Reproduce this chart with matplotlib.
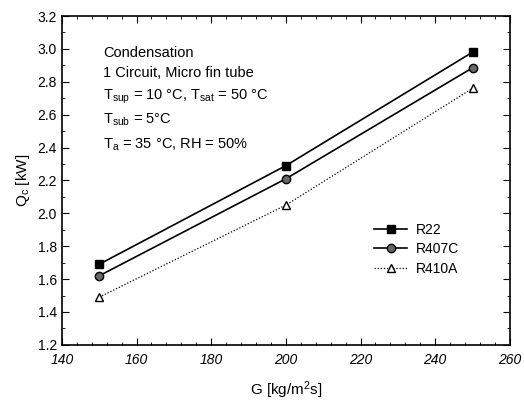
import matplotlib

matplotlib.use("Agg")

import matplotlib.pyplot as plt
from matplotlib.ticker import MultipleLocator

plt.rcParams["font.family"] = ["Liberation Sans", "DejaVu Sans"]
plt.rcParams["mathtext.default"] = "regular"

mass_flux = [150, 200, 250]
q_r22 = [1.69, 2.29, 2.98]
q_r407c = [1.62, 2.21, 2.885]
q_r410a = [1.49, 2.05, 2.76]

info_lines = [
    "Condensation",
    "1 Circuit, Micro fin tube",
    "T$_{sup}$ = 10 °C, T$_{sat}$ = 50 °C",
    "T$_{sub}$ = 5°C",
    "T$_{a}$ = 35 °C, RH = 50%",
]

fig = plt.figure(figsize=(5.24, 4.01), dpi=100)
ax = fig.add_axes([0.118, 0.140, 0.855, 0.820])

ax.plot(mass_flux, q_r22, color="black", linewidth=1.2, marker="s",
        markersize=6, markerfacecolor="black", label="R22")
ax.plot(mass_flux, q_r407c, color="black", linewidth=1.2, marker="o",
        markersize=6, markerfacecolor="0.4", label="R407C")
ax.plot(mass_flux, q_r410a, color="black", linewidth=0.9, linestyle=(0, (1, 1.5)),
        marker="^", markersize=6, markerfacecolor="white", label="R410A")

ax.set_xlim(140, 260)
ax.set_ylim(1.2, 3.2)
ax.xaxis.set_major_locator(MultipleLocator(20))
ax.xaxis.set_minor_locator(MultipleLocator(4))
ax.yaxis.set_major_locator(MultipleLocator(0.2))
ax.yaxis.set_minor_locator(MultipleLocator(0.1))
ax.yaxis.set_major_formatter(plt.FormatStrFormatter("%.1f"))
ax.tick_params(which="both", direction="in", top=True, right=True, labelsize=10)
ax.tick_params(which="major", length=5)
ax.tick_params(which="minor", length=2.5)
ax.tick_params(axis="x", pad=6)
for label in ax.get_xticklabels():
    label.set_fontstyle("italic")
for spine in ax.spines.values():
    spine.set_linewidth(1.2)

ax.set_xlabel("G [kg/m$^2$s]", fontsize=11, labelpad=9)
ax.set_ylabel("Q$_c$ [kW]", fontsize=11, labelpad=4)

y_positions = [0.888, 0.827, 0.754, 0.684, 0.608]
for text, y in zip(info_lines, y_positions):
    ax.text(0.093, y, text, transform=ax.transAxes, fontsize=10.5, va="center")

ax.legend(loc="upper left", bbox_to_anchor=(0.669, 0.41), frameon=False,
          fontsize=10, handlelength=2.4, handletextpad=0.6, labelspacing=0.4)

fig.savefig("out.png", dpi=100)
